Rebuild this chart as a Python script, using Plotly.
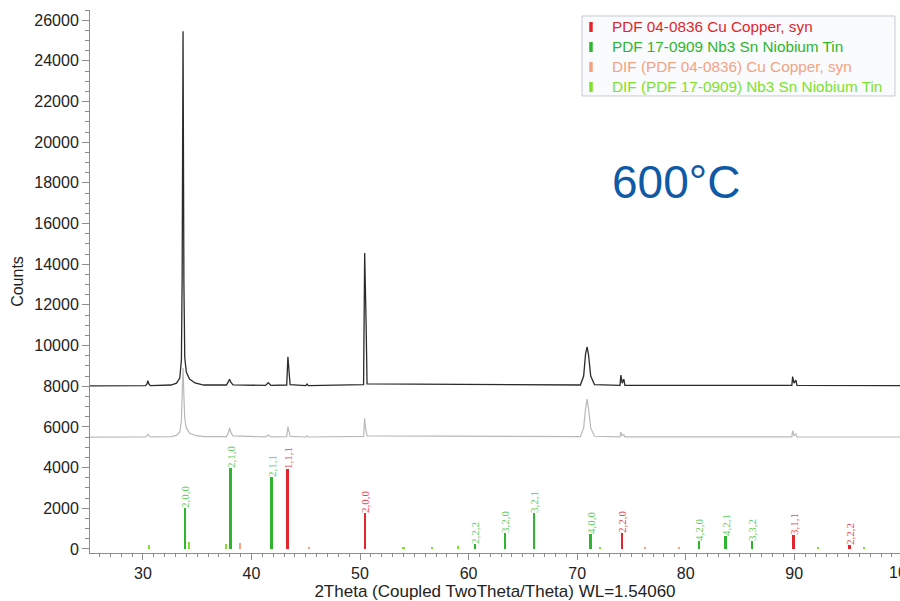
import plotly.graph_objects as go

# ---- measured diffraction scans (2theta in degrees, intensity in counts) ----
two_theta = [25.13, 30.25, 30.38, 30.46, 30.54, 30.70, 32.60, 33.10, 33.40, 33.55,
             33.62, 33.70, 33.78, 33.86, 34.00, 34.30, 34.80, 35.60, 37.70, 37.88,
             37.99, 38.10, 38.30, 41.30, 41.55, 41.80, 43.25, 43.36, 43.43, 43.48,
             43.56, 45.00, 45.12, 45.25, 50.33, 50.43, 50.50, 50.56, 50.65, 70.30,
             70.60, 70.78, 70.92, 71.06, 71.25, 71.60, 73.95, 74.03, 74.15, 74.30,
             74.40, 89.78, 89.85, 89.98, 90.15, 90.25, 99.74]

counts_600 = [8020, 8030, 8120, 8270, 8120, 8030, 8060, 8150, 8400, 9300,
              13500, 25460, 13000, 9400, 8700, 8350, 8160, 8060, 8060, 8200,
              8340, 8200, 8070, 8040, 8170, 8040, 8060, 9450, 8800, 8760,
              8080, 8030, 8110, 8030, 8080, 14550, 11200, 11160, 8120, 8060,
              8500, 9600, 9940, 9500, 8500, 8080, 8040, 8550, 8150, 8350,
              8040, 8040, 8470, 8150, 8300, 8040, 8030]

counts_lower = [5500, 5510, 5570, 5650, 5570, 5510, 5520, 5580, 5750, 6300,
                7600, 8900, 7500, 6400, 5950, 5700, 5580, 5520, 5520, 5720,
                5945, 5740, 5560, 5510, 5600, 5510, 5520, 6010, 5800, 5760,
                5530, 5505, 5560, 5505, 5530, 6420, 6000, 5850, 5560, 5520,
                5950, 6900, 7370, 6850, 5950, 5540, 5510, 5750, 5560, 5620,
                5510, 5510, 5810, 5580, 5650, 5510, 5505]

# ---- reference patterns ----
cu_pos = [43.32, 50.45, 74.13, 89.94, 95.07]
cu_int = [3930, 1780, 770, 680, 190]
cu_hkl = ["1,1,1", "2,0,0", "2,2,0", "3,1,1", "2,2,2"]

nb_pos = [33.90, 38.07, 41.83, 60.57, 63.34, 66.00, 71.23, 81.24, 83.68, 86.13]
nb_int = [2000, 3960, 3520, 225, 770, 1780, 735, 400, 635, 400]
nb_hkl = ["2,0,0", "2,1,0", "2,1,1", "2,2,2", "3,2,0", "3,2,1", "4,0,0",
          "4,2,0", "4,2,1", "3,3,2"]

dif_cu_pos = [38.98, 45.30, 76.25, 79.40]
dif_cu_int = [280, 100, 50, 60]

dif_nb_pos = [30.53, 34.24, 37.63, 54.00, 56.60, 59.00, 72.10, 92.20, 96.40]
dif_nb_int = [200, 330, 250, 50, 100, 150, 60, 60, 50]

legend_names = ["PDF 04-0836 Cu Copper, syn",
                "PDF 17-0909 Nb3 Sn Niobium Tin",
                "DIF (PDF 04-0836) Cu Copper, syn",
                "DIF (PDF 17-0909) Nb3 Sn Niobium Tin"]
legend_colors = ["#e3262e", "#2fb52f", "#f4a283", "#7fe02e"]
label_colors = ["#e84652", "#5ec95e"]

x_range = [25.13, 99.74]
y_range = [-200, 26500]
x_ticks = [30, 40, 50, 60, 70, 80, 90, 100]
y_ticks = list(range(0, 26001, 2000))

FONT = "Liberation Sans, Arial, sans-serif"
PLOT_W, PLOT_H = 810, 543          # plot-area size in px (used for the key box)

fig = go.Figure()

# scans
fig.add_trace(go.Scatter(x=two_theta, y=counts_lower, mode="lines",
                         line=dict(color="#b9b9b9", width=1.2),
                         showlegend=False, hoverinfo="skip"))
fig.add_trace(go.Scatter(x=two_theta, y=counts_600, mode="lines",
                         line=dict(color="#2b2b2b", width=1.3),
                         showlegend=False, hoverinfo="skip"))

# DIF sticks
fig.add_trace(go.Bar(x=dif_cu_pos, y=dif_cu_int, width=0.2,
                     marker=dict(color=legend_colors[2], line=dict(width=0)),
                     showlegend=False, hoverinfo="skip"))
fig.add_trace(go.Bar(x=dif_nb_pos, y=dif_nb_int, width=0.2,
                     marker=dict(color=legend_colors[3], line=dict(width=0)),
                     showlegend=False, hoverinfo="skip"))

# reference sticks with hkl labels
fig.add_trace(go.Bar(x=nb_pos, y=nb_int, width=0.22,
                     marker=dict(color=legend_colors[1], line=dict(width=0)),
                     text=nb_hkl, textposition="outside", textangle=-90,
                     constraintext="none", cliponaxis=False,
                     textfont=dict(family="Liberation Serif, serif", size=11,
                                   color=label_colors[1]),
                     showlegend=False, hoverinfo="skip"))
fig.add_trace(go.Bar(x=cu_pos, y=cu_int, width=0.24,
                     marker=dict(color=legend_colors[0], line=dict(width=0)),
                     text=cu_hkl, textposition="outside", textangle=-90,
                     constraintext="none", cliponaxis=False,
                     textfont=dict(family="Liberation Serif, serif", size=11,
                                   color=label_colors[0]),
                     showlegend=False, hoverinfo="skip"))

# ---- compact key box in the upper right corner ----
box_left, box_right = 0.6074, 0.9938
box_top, row_h = 0.989, 20 / PLOT_H
fig.add_shape(type="rect", xref="paper", yref="paper",
              x0=box_left, x1=box_right, y0=box_top - 4 * row_h, y1=box_top,
              fillcolor="#fafbfc", line=dict(color="#c4cad4", width=1),
              layer="above")
for i, (name, col) in enumerate(zip(legend_names, legend_colors)):
    yc = box_top - (i + 0.55) * row_h
    fig.add_shape(type="line", xref="paper", yref="paper",
                  x0=box_left + 9 / PLOT_W, x1=box_left + 9 / PLOT_W,
                  y0=yc - 5 / PLOT_H, y1=yc + 5 / PLOT_H,
                  line=dict(color=col, width=3.5), layer="above")
    fig.add_annotation(x=box_left + 28 / PLOT_W, y=yc, xref="paper", yref="paper",
                       xanchor="left", yanchor="middle", text=name,
                       showarrow=False,
                       font=dict(family=FONT, size=15.3, color=col))

# "100" tick label sits past the right edge of the plot area
fig.add_annotation(x=(x_ticks[-1] - x_range[0]) / (x_range[1] - x_range[0]),
                   y=0, xref="paper", yref="paper", text=str(x_ticks[-1]),
                   showarrow=False, xanchor="center", yanchor="top", yshift=-9,
                   font=dict(family=FONT, size=16, color="#222222"))

fig.add_annotation(x=0.7235, y=0.683, xref="paper", yref="paper",
                   xanchor="center", yanchor="middle",
                   text="600°C", showarrow=False,
                   font=dict(family=FONT, size=46, color="#0f5aa6"))

fig.update_layout(
    width=900, height=601,
    margin=dict(l=90, r=0, t=10, b=48),
    paper_bgcolor="white", plot_bgcolor="white",
    barmode="overlay", bargap=0, showlegend=False,
    font=dict(family=FONT, size=16, color="#222222"),
    xaxis=dict(range=x_range, tickvals=x_ticks[:-1], showgrid=False,
               zeroline=False, showline=True, linecolor="#8c8c8c", linewidth=1,
               ticks="outside", ticklen=6, tickcolor="#8c8c8c",
               minor=dict(dtick=1, tick0=0, ticks="outside", ticklen=3,
                          tickcolor="#8c8c8c", showgrid=False),
               tickfont=dict(family=FONT, size=16, color="#222222"),
               title=dict(text="2Theta (Coupled TwoTheta/Theta) WL=1.54060",
                          font=dict(family=FONT, size=17, color="#222222"),
                          standoff=4)),
    yaxis=dict(range=y_range, tickvals=y_ticks, tickformat="d", showgrid=False,
               zeroline=False, showline=True, linecolor="#8c8c8c", linewidth=1,
               ticks="outside", ticklen=7, tickcolor="#8c8c8c",
               minor=dict(dtick=500, tick0=0, ticks="outside", ticklen=4,
                          tickcolor="#8c8c8c", showgrid=False),
               tickfont=dict(family=FONT, size=16, color="#222222"),
               title=dict(text="Counts",
                          font=dict(family=FONT, size=16, color="#222222"),
                          standoff=6)),
)

fig.write_html("out.html")
